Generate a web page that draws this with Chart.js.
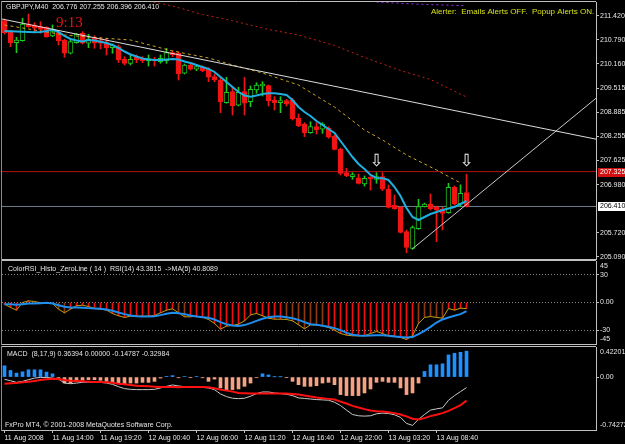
<!DOCTYPE html>
<html><head><meta charset="utf-8">
<script src="https://cdn.jsdelivr.net/npm/chart.js@4.4.1/dist/chart.umd.min.js"></script>
<style>
html,body{margin:0;padding:0;background:#000;}
#wrap{position:relative;width:625px;height:444px;background:#000;overflow:hidden;}
canvas{position:absolute;left:0;}
</style></head><body>
<div id="wrap">
<canvas id="cMain" width="625" height="262" style="top:0px"></canvas>
<canvas id="cRsi" width="625" height="90" style="top:258px"></canvas>
<canvas id="cMacd" width="625" height="100" style="top:344px"></canvas>
</div>
<script>
// ---------------- DATA ----------------
const mainTitle = 'GBPJPY,M40  206.776 207.255 206.396 206.410';
const alerterText = 'Alerter:  Emails Alerts OFF.  Popup Alerts ON.';
const timerText = '9:13';
const rsiTitle = 'ColorRSI_Histo_ZeroLine ( 14 )  RSI(14) 43.3815  ->MA(5) 40.8089';
const macdTitle = 'MACD  (8,17,9) 0.36394 0.00000 -0.14787 -0.32984';
const copyrightText = 'FxPro MT4, \u00A9 2001-2008 MetaQuotes Software Corp.';

const xTickBars = [0, 8, 16, 24, 32, 40, 48, 56, 64, 72];
const xTickLabels = ['11 Aug 2008','11 Aug 14:00','11 Aug 19:20','12 Aug 00:40','12 Aug 06:00',
                     '12 Aug 11:20','12 Aug 16:40','12 Aug 22:00','13 Aug 03:20','13 Aug 08:40'];

const priceTickValues = [211.420, 210.790, 210.160, 209.515, 208.885, 208.255, 207.625, 206.980, 205.720, 205.090];
const priceTickLabels = ['211.420','210.790','210.160','209.515','208.885','208.255','207.625','206.980','205.720','205.090'];

const open = [211.289,211.000,210.711,210.764,211.203,211.176,211.132,211.116,210.887,210.974,
 210.782,210.433,210.711,210.958,210.696,210.827,210.764,210.711,210.580,210.606,
 210.275,210.170,210.328,210.302,210.239,210.275,210.212,210.239,210.449,210.433,
 209.908,210.126,210.013,210.065,210.021,209.818,209.732,209.135,209.424,209.067,
 209.424,209.162,209.469,209.574,209.582,209.206,209.135,209.188,209.206,208.726,
 208.576,208.347,208.505,208.437,208.463,208.261,207.911,207.297,207.192,207.165,
 207.000,207.165,207.123,207.192,206.861,206.440,206.388,205.747,205.311,205.826,
 206.404,206.475,206.388,206.343,206.246,206.913,206.475,206.776];
const high = [211.334,211.019,210.853,211.352,211.465,211.237,211.263,211.132,211.176,211.000,
 210.801,210.782,210.958,211.000,210.932,210.895,210.853,210.827,210.677,210.651,
 210.344,210.388,210.388,210.344,210.388,210.328,210.388,210.564,210.501,210.475,
 210.152,210.152,210.126,210.099,210.055,209.889,209.776,209.803,209.540,209.540,
 209.803,209.574,209.661,209.687,209.600,209.293,209.293,209.225,209.251,208.839,
 208.610,208.636,208.610,208.610,208.505,208.287,207.946,207.412,207.297,207.263,
 207.210,207.192,207.297,207.297,206.974,206.711,206.404,205.792,205.897,206.598,
 206.501,206.737,206.422,206.388,207.018,206.947,206.980,207.255];
const low = [210.940,210.606,210.449,210.750,211.116,211.000,210.958,210.853,210.869,210.651,
 210.328,210.415,210.696,210.677,210.580,210.564,210.546,210.388,210.433,210.186,
 210.126,210.126,210.186,210.186,210.099,210.099,210.170,210.170,210.344,209.732,
 209.889,209.994,209.976,209.950,209.687,209.687,208.873,209.120,208.812,209.049,
 208.812,209.030,209.382,209.311,209.049,208.944,208.873,209.049,208.681,208.505,
 208.242,208.332,208.313,208.332,208.200,207.893,207.236,207.192,207.123,207.000,
 206.947,206.842,207.018,206.824,206.370,206.335,205.713,205.195,205.285,205.810,
 206.395,206.317,205.484,205.792,206.230,206.448,206.404,206.396];
const close = [210.974,210.711,210.782,211.203,211.132,211.090,211.063,210.869,211.000,210.764,
 210.433,210.738,210.940,210.696,210.801,210.696,210.696,210.580,210.651,210.257,
 210.170,210.275,210.257,210.239,210.275,210.231,210.302,210.449,210.388,209.889,
 210.126,210.013,210.081,209.976,209.803,209.732,209.162,209.409,209.049,209.409,
 209.120,209.487,209.600,209.627,209.188,209.135,209.188,209.101,208.707,208.523,
 208.347,208.505,208.418,208.576,208.227,207.911,207.281,207.218,207.236,207.018,
 207.150,207.131,207.192,206.861,206.388,206.351,205.731,205.337,205.852,206.404,
 206.475,206.351,206.317,206.230,206.913,206.475,206.756,206.410];

// fast moving average (cyan)
const maFast = [211.019,211.011,211.006,211.000,210.992,210.985,210.992,211.019,211.058,210.992,
 210.887,210.809,210.769,210.743,210.782,210.769,210.738,210.704,210.651,210.572,
 210.480,210.401,210.349,210.296,210.270,210.257,210.257,210.270,210.283,210.270,
 210.218,210.178,210.126,210.073,210.021,209.942,209.810,209.679,209.548,209.416,
 209.325,209.293,209.325,209.364,209.382,209.382,209.364,209.338,209.206,209.022,
 208.891,208.786,208.655,208.550,208.445,208.340,208.129,207.919,207.709,207.525,
 207.394,207.236,207.158,207.150,207.105,206.921,206.685,206.370,206.133,206.054,
 206.133,206.212,206.264,206.317,206.356,206.396,206.475,206.553];
// slower average (yellow dashed), read where visible
const maMidBars = [0,5,10,16,21,28,34,38,43,49,55,60,63,67,72,76];
const maMidVals = [211.176,211.045,210.914,210.835,210.782,210.493,210.310,210.126,209.916,209.600,
 209.022,208.418,208.156,207.762,207.368,207.026];
// long average (red dotted)
const maLongBars = [24,28,33,38,44,49,55,60,66,71,74,77];
const maLongVals = [211.807,211.675,211.452,211.289,211.058,210.914,210.638,210.323,209.981,209.745,209.514,209.285];
// very long average (purple dotted)
const maVLongBars = [62,69,77];
const maVLongVals = [211.780,211.722,211.680];
// trend lines (anchor points)
const downTrendBars = [-0.5, 98.6];
const downTrendPrices = [211.335, 208.177];
const upTrendBars = [68, 98.6];
const upTrendPrices = [205.299, 209.254];
// horizontal lines
const resistancePrice = 207.325;
const resistanceLabel = '207.325';
const bidPrice = 206.410;
const bidLabel = '206.410';
// arrows
const arrowBars = [62, 77];
const arrowPrices = [207.585, 207.585];

// RSI panel (RSI - 50)
const rsiTickValues = [30, 0, -30];
const rsiTickLabels = ['30', '0.00', '-30'];
const rsiEdgeLabels = ['45', '-45'];
const rsiScaleMax = 45, rsiScaleMin = -45;
const rsi = [-1.8,-5.4,-8.3,0,1.8,1.1,-0.4,0,-1.1,-7.2,
 -11.2,-7.2,-3.6,-2.9,-4.3,-6.5,-7.2,-8.3,-11.9,-14.4,
 -16.2,-14.8,-14.8,-14.8,-14.8,-14.1,-11.2,-8.3,-6.9,-11.2,
 -15.5,-15.5,-14.8,-15.9,-18.4,-22.7,-28.9,-25.6,-24.9,-23.5,
 -19.9,-13.4,-11.9,-14.4,-17.0,-18.1,-18.1,-18.4,-19.9,-24.2,
 -28.5,-24.2,-24.5,-25.3,-27.1,-30.0,-33.6,-35.4,-36.1,-36.1,
 -36.1,-33.6,-31.4,-33.6,-36.1,-36.5,-37.9,-40.1,-36.1,-22.7,
 -16.2,-15.2,-16.2,-17.0,-6.5,-8.3,-6.1,-6.6];
const rsiMa = [-1.8,-1.8,-2.5,-1.8,-1.1,-1.1,-0.7,-0.4,-1.1,-2.9,
 -4.7,-5.4,-5.4,-5.8,-6.1,-6.5,-6.9,-7.6,-9.0,-10.8,
 -12.6,-14.1,-14.8,-15.2,-15.2,-14.8,-13.7,-12.3,-11.2,-11.6,
 -12.6,-14.1,-15.2,-15.9,-16.6,-18.4,-21.3,-23.5,-24.9,-25.6,
 -24.5,-22.4,-19.9,-17.7,-15.9,-15.2,-15.2,-15.9,-17.0,-18.8,
 -21.3,-23.5,-24.2,-25.3,-26.4,-27.8,-30.0,-32.9,-35.0,-35.7,
 -36.1,-35.7,-35.4,-35.4,-36.1,-36.8,-37.5,-37.9,-37.5,-34.3,
 -30.7,-26.4,-21.7,-18.4,-16.2,-14.4,-12.6,-9.4];
// which indicator buffer each histogram bar belongs to (0 = main, 1 = second)
const rsiHistoBuffer = [0,0,0,0,0,0,0,0,0,1, 1,0,0,0,0,0,0,0,0,0, 0,0,0,0,0,0,0,0,0,1,
 1,0,0,0,0,0,0,0,0,0, 0,0,0,0,0,0,0,1,1,1, 1,1,1,1,0,0,0,0,0,0, 0,0,0,0,0,0,0,0,0,1, 1,1,1,1,0,0,0,0];

// MACD panel
const macdTickValues = [0];
const macdTickLabels = ['0.00'];
const macdEdgeLabels = ['0.42201', '-0.74272'];
const macdScaleMax = 0.42201, macdScaleMin = -0.74272;
const macdHist = [0.158,0.093,0.056,0.074,0.102,0.102,0.102,0.070,0.046,-0.037,
 -0.084,-0.084,-0.060,-0.046,-0.037,-0.037,-0.046,-0.060,-0.074,-0.084,
 -0.093,-0.084,-0.084,-0.074,-0.074,-0.060,-0.014,0.010,0.020,-0.010,
 0.005,-0.005,0.005,-0.010,-0.060,-0.028,-0.153,-0.176,-0.176,-0.167,
 -0.130,-0.084,-0.009,0.046,0.030,0.003,0.003,-0.005,-0.060,-0.107,
 -0.130,-0.130,-0.121,-0.084,-0.074,-0.107,-0.246,-0.260,-0.260,-0.260,
 -0.223,-0.167,-0.074,-0.060,-0.074,-0.074,-0.153,-0.246,-0.223,-0.084,
 0.079,0.172,0.172,0.186,0.311,0.334,0.348,0.364];
const macdMain = [-0.032,-0.051,-0.074,-0.060,-0.037,-0.014,-0.005,-0.005,-0.014,-0.028,
 -0.084,-0.093,-0.084,-0.074,-0.070,-0.070,-0.074,-0.084,-0.102,-0.135,
 -0.162,-0.172,-0.176,-0.176,-0.176,-0.172,-0.153,-0.130,-0.111,-0.125,
 -0.135,-0.139,-0.139,-0.144,-0.153,-0.176,-0.237,-0.274,-0.297,-0.302,
 -0.297,-0.269,-0.232,-0.209,-0.209,-0.223,-0.232,-0.241,-0.260,-0.292,
 -0.300,-0.308,-0.316,-0.320,-0.325,-0.353,-0.399,-0.464,-0.525,-0.543,
 -0.548,-0.543,-0.515,-0.506,-0.511,-0.529,-0.566,-0.650,-0.678,-0.594,
 -0.525,-0.464,-0.446,-0.432,-0.325,-0.260,-0.204,-0.148];
const macdSignal = [-0.093,-0.088,-0.084,-0.074,-0.065,-0.056,-0.042,-0.032,-0.023,-0.028,
 -0.042,-0.051,-0.056,-0.060,-0.065,-0.070,-0.070,-0.074,-0.079,-0.093,
 -0.102,-0.111,-0.121,-0.125,-0.130,-0.135,-0.139,-0.139,-0.139,-0.144,
 -0.139,-0.139,-0.139,-0.139,-0.144,-0.158,-0.176,-0.190,-0.204,-0.223,
 -0.227,-0.232,-0.232,-0.232,-0.232,-0.232,-0.232,-0.232,-0.237,-0.246,
 -0.260,-0.274,-0.288,-0.297,-0.306,-0.316,-0.344,-0.371,-0.404,-0.427,
 -0.450,-0.469,-0.478,-0.483,-0.492,-0.506,-0.525,-0.552,-0.585,-0.594,
 -0.576,-0.548,-0.529,-0.506,-0.474,-0.436,-0.395,-0.330];

// price scale limits
const priceMin = 205.03, priceMax = 211.78;

// ---------------- RENDERING ----------------
const FONT = '"Liberation Sans", Arial, sans-serif';
const TXT = '#e6e6e6';
const AXIS = '#c0c0c0';
const xMin = -0.4167, xMax = 98.5833;
const barIdx = open.map((_, i) => i);
const xy = (xs, ys) => xs.map((x, k) => ({x: x, y: ys[k]}));
const upCol = '#1ec81e', dnCol = '#f01414';
const isUp = i => close[i] > open[i];

function fitY(s) { s.width = 29; s.paddingTop = 0; s.paddingBottom = 0; }
function txt(ctx, s, x, y, color, font, align, base) {
  ctx.font = font; ctx.fillStyle = color;
  ctx.textAlign = align || 'left'; ctx.textBaseline = base || 'middle';
  ctx.fillText(s, x, y);
}
const framePlugin = {
  id: 'frame',
  afterDraw(chart) {
    const {ctx, chartArea: a} = chart;
    ctx.save();
    ctx.lineWidth = 1;
    ctx.strokeStyle = AXIS;
    ctx.beginPath();
    ctx.moveTo(a.left - 1, a.top - 0.5); ctx.lineTo(a.right, a.top - 0.5);
    ctx.moveTo(a.left - 1, a.bottom + 0.5); ctx.lineTo(a.right, a.bottom + 0.5);
    ctx.stroke();
    ctx.strokeStyle = '#848c96';
    ctx.beginPath(); ctx.moveTo(a.left - 0.5, a.top - 1); ctx.lineTo(a.left - 0.5, a.bottom + 1); ctx.stroke();
    ctx.restore();
  }
};
function edgePlugin(labels) {
  return {
    id: 'edge',
    afterDraw(chart) {
      const {ctx, chartArea: a} = chart;
      ctx.save();
      txt(ctx, labels[0], a.right + 4, a.top + 5.5, TXT, '7px ' + FONT);
      txt(ctx, labels[1], a.right + 4, a.bottom - 4.5, TXT, '7px ' + FONT);
      ctx.restore();
    }
  };
}
function yAxis(min, max, vals, labels, gridOn) {
  return {
    position: 'right', min: min, max: max,
    afterBuildTicks: s => { s.ticks = vals.map(v => ({value: v})); },
    afterFit: fitY,
    ticks: { color: TXT, font: {family: FONT, size: 7}, padding: 1,
             callback: v => labels[vals.indexOf(v)] },
    grid: { drawOnChartArea: gridOn, color: '#8a8a8a', drawTicks: true, tickLength: 3, tickColor: AXIS },
    border: { display: true, color: AXIS, dash: [1, 2] }
  };
}
const xHidden = { type: 'linear', min: xMin, max: xMax, offset: false, display: false };
const baseOpts = {
  responsive: false, animation: false, events: [],
  plugins: { legend: {display: false}, tooltip: {enabled: false} }
};
const lineDs = (data, color, width, dash, order) => ({
  type: 'line', data: data, borderColor: color, borderWidth: width, borderDash: dash || [],
  pointRadius: 0, fill: false, tension: 0, order: order
});

// ---- main price chart ----
const mainPlugin = {
  id: 'mainText',
  afterDraw(chart) {
    const {ctx, chartArea: a} = chart;
    const xs = chart.scales.x, ys = chart.scales.y;
    ctx.save();
    txt(ctx, mainTitle, 6, 7.5, TXT, '7px ' + FONT);
    txt(ctx, alerterText, 431, 11.5, '#d6e01a', '8px ' + FONT);
    txt(ctx, timerText, 56, 26.5, '#e01414', '15px "Liberation Serif", serif', 'left', 'alphabetic');
    arrowBars.forEach((b, k) => {
      txt(ctx, '\u21E9', xs.getPixelForValue(b), ys.getPixelForValue(arrowPrices[k]), '#ececec', '17px "DejaVu Sans"', 'center', 'middle');
    });
    const box = (price, label, bg, fg) => {
      const y = Math.round(ys.getPixelForValue(price));
      ctx.fillStyle = bg; ctx.fillRect(a.right + 2, y - 4, 29, 9);
      txt(ctx, label, a.right + 4, y + 0.5, fg, '7px ' + FONT);
    };
    box(resistancePrice, resistanceLabel, '#d01010', '#ffffff');
    box(bidPrice, bidLabel, '#ffffff', '#000000');
    ctx.restore();
  }
};
new Chart(document.getElementById('cMain'), {
  type: 'bar',
  data: { datasets: [
    lineDs([{x: xMin, y: resistancePrice}, {x: xMax, y: resistancePrice}], '#b01414', 1, [], 20),
    lineDs([{x: xMin, y: bidPrice}, {x: xMax, y: bidPrice}], '#6f7d8e', 1, [], 20),
    { label: 'wick', data: barIdx.map(i => ({x: i, y: [low[i], high[i]]})),
      backgroundColor: c => isUp(c.dataIndex) ? upCol : dnCol,
      barThickness: 1, maxBarThickness: 1, grouped: false, order: 12 },
    { label: 'body', data: barIdx.map(i => ({x: i, y: [open[i], close[i]]})),
      backgroundColor: c => isUp(c.dataIndex) ? '#000000' : dnCol,
      borderColor: c => isUp(c.dataIndex) ? upCol : dnCol,
      borderWidth: 1, borderSkipped: false, minBarLength: 2,
      barThickness: 5, maxBarThickness: 5, grouped: false, order: 11 },
    lineDs(xy(maVLongBars, maVLongVals), '#9a30e8', 1, [2, 3], 5),
    lineDs(xy(maLongBars, maLongVals), '#c02414', 1, [2, 3], 5),
    lineDs(xy(maMidBars, maMidVals), '#c8a424', 1, [3, 3], 4),
    lineDs(xy(barIdx, maFast), '#1fb0e0', 2, [], 3),
    lineDs(xy(downTrendBars, downTrendPrices), '#dcdcdc', 1, [], 2),
    lineDs(xy(upTrendBars, upTrendPrices), '#c8c8c8', 1, [], 2)
  ]},
  options: Object.assign({}, baseOpts, {
    layout: { padding: {left: 2, top: 2, right: 0, bottom: 3} },
    scales: {
      x: xHidden,
      y: Object.assign(yAxis(priceMin, priceMax, priceTickValues, priceTickLabels, false), {
        border: { display: true, color: AXIS } })
    }
  }),
  plugins: [framePlugin, mainPlugin]
});

// ---- RSI panel ----
const rsiPlugin = {
  id: 'rsiText',
  afterDraw(chart) {
    const {ctx} = chart;
    ctx.save();
    txt(ctx, rsiTitle, 8, 11, TXT, '7px ' + FONT);
    ctx.restore();
  }
};
new Chart(document.getElementById('cRsi'), {
  type: 'bar',
  data: { datasets: [
    { label: 'histo', data: xy(barIdx, rsi),
      backgroundColor: c => rsiHistoBuffer[c.dataIndex] ? '#8e3a12' : '#f01010',
      barThickness: 1, maxBarThickness: 1, grouped: false, order: 10 },
    lineDs(xy(barIdx, rsi), '#c0a010', 1, [], 2),
    lineDs(xy(barIdx, rsiMa), '#1e8ff0', 2, [], 1)
  ]},
  options: Object.assign({}, baseOpts, {
    layout: { padding: {left: 2, top: 3, right: 0, bottom: 4} },
    scales: { x: xHidden, y: yAxis(rsiScaleMin, rsiScaleMax, rsiTickValues, rsiTickLabels, true) }
  }),
  plugins: [framePlugin, edgePlugin(rsiEdgeLabels), rsiPlugin]
});

// ---- MACD panel ----
const macdPlugin = {
  id: 'macdText',
  afterDraw(chart) {
    const {ctx} = chart;
    ctx.save();
    txt(ctx, macdTitle, 7, 10, TXT, '7px ' + FONT);
    txt(ctx, copyrightText, 5, 81, TXT, '7px ' + FONT);
    ctx.restore();
  }
};
new Chart(document.getElementById('cMacd'), {
  type: 'bar',
  data: { datasets: [
    { label: 'hist', data: xy(barIdx, macdHist),
      backgroundColor: c => macdHist[c.dataIndex] >= 0 ? '#1e90ff' : '#f4a184',
      barThickness: 3, maxBarThickness: 3, grouped: false, order: 10 },
    lineDs(xy(barIdx, macdMain), '#c8c8c8', 1, [], 2),
    lineDs(xy(barIdx, macdSignal), '#ff1010', 2, [], 1)
  ]},
  options: Object.assign({}, baseOpts, {
    layout: { padding: {left: 2, top: 3, right: 0, bottom: 0} },
    scales: {
      x: { type: 'linear', min: xMin, max: xMax, offset: false, position: 'bottom',
           afterBuildTicks: s => { s.ticks = xTickBars.map(v => ({value: v})); },
           afterFit: s => { s.height = 14; s.paddingLeft = 0; s.paddingRight = 0; },
           ticks: { color: TXT, font: {family: FONT, size: 7}, padding: 1, align: 'start',
                    autoSkip: false, maxRotation: 0, minRotation: 0,
                    callback: v => xTickLabels[xTickBars.indexOf(v)] },
           grid: { drawOnChartArea: false, drawTicks: true, tickLength: 3, tickColor: AXIS, offset: false },
           border: { display: true, color: AXIS } },
      y: Object.assign(yAxis(macdScaleMin, macdScaleMax, macdTickValues, macdTickLabels, false), {
        border: { display: true, color: AXIS } })
    }
  }),
  plugins: [framePlugin, edgePlugin(macdEdgeLabels), macdPlugin]
});
</script>
</body></html>
